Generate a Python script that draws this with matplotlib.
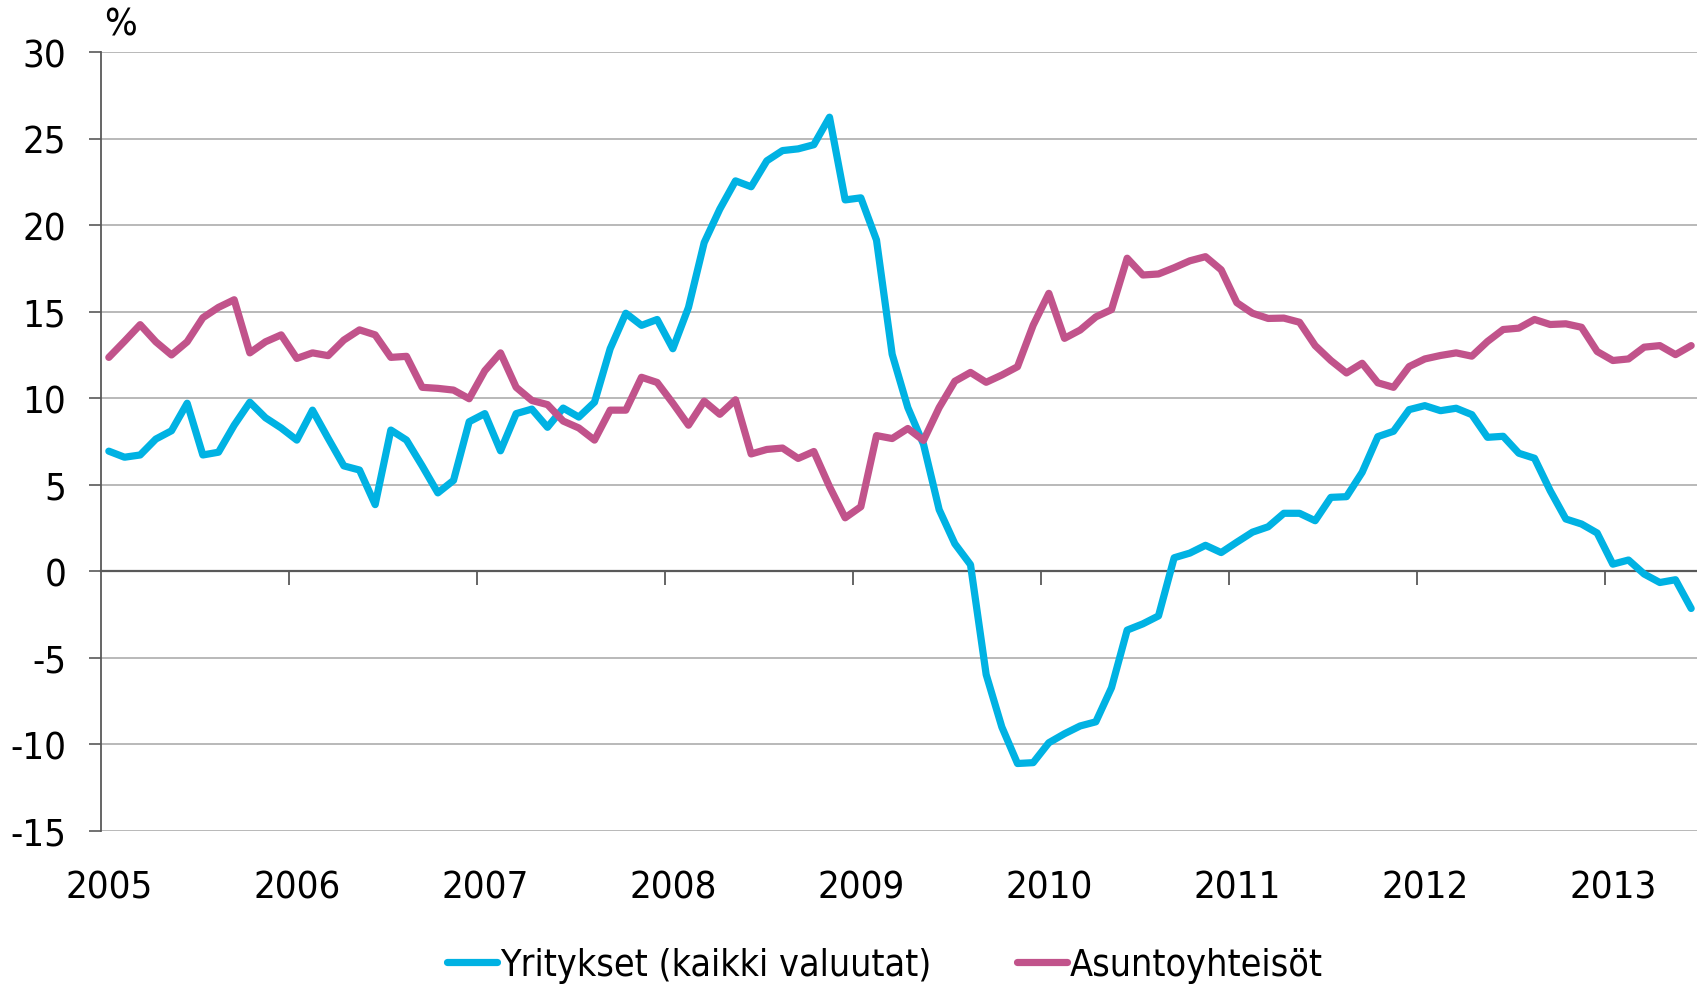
import numpy as np
import matplotlib
matplotlib.use("Agg")
import matplotlib.pyplot as plt
from matplotlib import font_manager

# ---- data -------------------------------------------------------------
months = [f"{y}-{m:02d}" for y in range(2005, 2014) for m in range(1, 13)][:102]
year_labels = ["2005", "2006", "2007", "2008", "2009", "2010", "2011", "2012", "2013"]

yritykset = [
    6.95, 6.6, 6.73, 7.65, 8.13, 9.72, 6.73, 6.89, 8.45, 9.78, 8.88, 8.29,
    7.59, 9.32, 7.69, 6.1, 5.86, 3.86, 8.17, 7.59, 6.1, 4.54, 5.26, 8.65,
    9.12, 6.97, 9.12, 9.38, 8.33, 9.44, 8.92, 9.78, 12.87, 14.92, 14.22, 14.56,
    12.87, 15.26, 19.0, 20.94, 22.57, 22.23, 23.73, 24.32, 24.42, 24.66, 26.25, 21.47,
    21.59, 19.15, 12.55, 9.47, 7.35, 3.57, 1.6, 0.39, -5.96, -8.99, -11.1, -11.05,
    -9.9, -9.38, -8.93, -8.69, -6.72, -3.39, -3.03, -2.57, 0.79, 1.06, 1.51, 1.09,
    1.69, 2.27, 2.58, 3.36, 3.36, 2.93, 4.28, 4.32, 5.73, 7.79, 8.1, 9.35,
    9.58, 9.29, 9.43, 9.06, 7.75, 7.81, 6.83, 6.54, 4.67, 3.03, 2.74, 2.22,
    0.42, 0.66, -0.15, -0.64, -0.48, -2.14,
]
asuntoyhteisot = [
    12.37, 13.3, 14.26, 13.27, 12.51, 13.27, 14.66, 15.26, 15.7, 12.63, 13.27, 13.67,
    12.31, 12.63, 12.47, 13.37, 13.96, 13.67, 12.37, 12.43, 10.64, 10.58, 10.48, 9.98,
    11.6, 12.63, 10.64, 9.88, 9.64, 8.69, 8.29, 7.59, 9.32, 9.32, 11.22, 10.92,
    9.72, 8.45, 9.84, 9.08, 9.92, 6.79, 7.05, 7.13, 6.53, 6.93, 4.9, 3.1,
    3.74, 7.85, 7.68, 8.26, 7.57, 9.47, 10.99, 11.5, 10.93, 11.35, 11.83, 14.23,
    16.07, 13.47, 13.95, 14.71, 15.13, 18.1, 17.13, 17.19, 17.55, 17.95, 18.19, 17.43,
    15.53, 14.92, 14.62, 14.64, 14.4, 13.05, 12.19, 11.47, 12.03, 10.9, 10.64, 11.84,
    12.28, 12.48, 12.63, 12.44, 13.29, 13.98, 14.06, 14.56, 14.27, 14.31, 14.11, 12.71,
    12.19, 12.28, 12.96, 13.05, 12.53, 13.05,
]
series_names = ["Yritykset (kaikki valuutat)", "Asuntoyhteisöt"]
y_ticks = [-15, -10, -5, 0, 5, 10, 15, 20, 25, 30]

# ---- style ------------------------------------------------------------
CYAN = "#00B2E3"
PINK = "#C1538B"
GRID = "#A6A6A6"
AXIS = "#595959"
LW = 5.2

fp = font_manager.FontProperties(family="DejaVu Sans", stretch="condensed", size=27.5)
fp_leg = font_manager.FontProperties(family="DejaVu Sans", stretch="condensed", size=27)

fig = plt.figure(figsize=(16.97, 9.87), dpi=100)
ax = fig.add_axes([101 / 1697, 1 - 832 / 987, 1598 / 1697, (832 - 53.3) / 987])

x = np.arange(len(months))
ax.plot(x, yritykset, color=CYAN, lw=LW, solid_joinstyle="round",
        solid_capstyle="round", label=series_names[0], zorder=3)
ax.plot(x, asuntoyhteisot, color=PINK, lw=LW, solid_joinstyle="round",
        solid_capstyle="round", label=series_names[1], zorder=3)

ax.set_xlim(-0.5, len(months) - 0.5)
ax.set_ylim(-15, 30)

# y axis
ax.set_yticks(y_ticks)
ax.set_yticklabels([str(v) for v in y_ticks])
for lab in ax.get_yticklabels():
    lab.set_fontproperties(fp)
ax.tick_params(axis="y", direction="out", length=8.6, width=1.2, color=AXIS,
               pad=16.5, labelcolor="black")
ax.yaxis.grid(True, color=GRID, lw=1.1)
ax.set_axisbelow(True)

for s in ["top", "right"]:
    ax.spines[s].set_visible(False)
ax.spines["left"].set_color(AXIS)
ax.spines["left"].set_linewidth(1.3)
ax.spines["bottom"].set_position(("data", 0))
ax.spines["bottom"].set_color(AXIS)
ax.spines["bottom"].set_linewidth(1.6)
ax.spines["bottom"].set_zorder(2)

# category boundaries between years on the zero line
year_starts = [months.index(f"{y}-01") for y in year_labels]
ax.set_xticks([p - 0.5 for p in year_starts[1:]])
ax.set_xticklabels([])
ax.tick_params(axis="x", direction="out", length=10, width=1.3, color=AXIS)

# year labels below the plot
sec = ax.secondary_xaxis("bottom")
sec.set_xticks(year_starts)
sec.set_xticklabels(year_labels)
for lab in sec.get_xticklabels():
    lab.set_fontproperties(fp)
sec.tick_params(length=0, pad=27.5)
sec.spines["bottom"].set_visible(False)

# % unit label
fig.text(120 / 1697, 1 - 25 / 987, "%", ha="center", va="center", fontproperties=fp)

leg = fig.legend(loc="center", bbox_to_anchor=(0.5215, 1 - 966 / 987), ncol=2,
                 frameon=False, prop=fp_leg, handlelength=1.33, handletextpad=0.08,
                 columnspacing=2.3, borderaxespad=0, borderpad=0)
for h in leg.get_lines():
    h.set_linewidth(LW)
    h.set_solid_capstyle("round")

fig.savefig("out.png", dpi=100)
